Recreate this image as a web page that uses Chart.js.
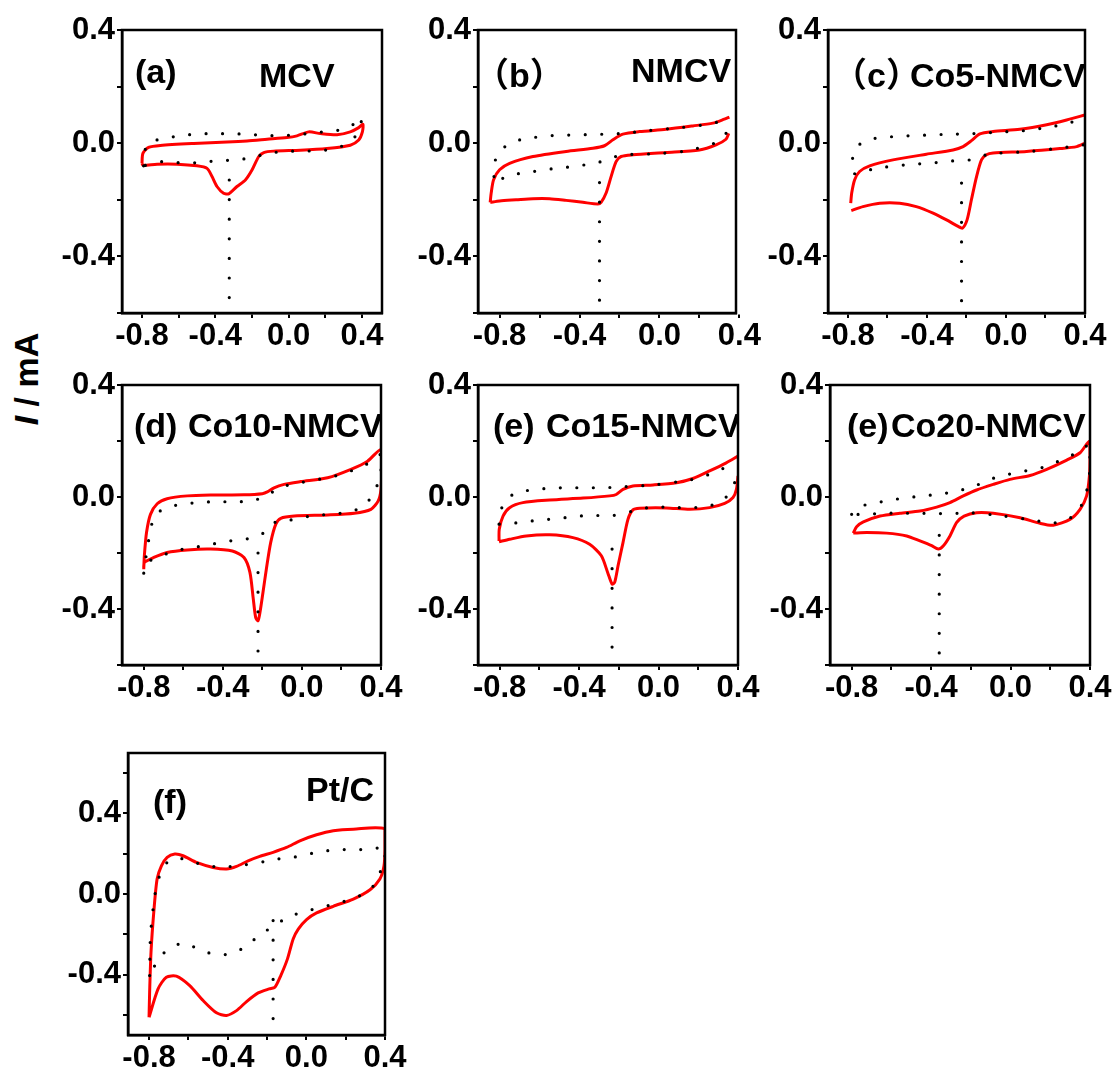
<!DOCTYPE html>
<html>
<head>
<meta charset="utf-8">
<script src="https://cdn.jsdelivr.net/npm/chart.js@4.4.0/dist/chart.umd.min.js"></script>
<style>
  body { margin: 0; background: #fff; }
  #wrap { position: relative; width: 1116px; height: 1072px; overflow: hidden; }
  #wrap canvas { position: absolute; }
  #ylab {
    position: absolute; left: 26px; top: 379px;
    transform: translate(-50%, -50%) rotate(-90deg);
    font: bold 34px "Liberation Sans", Arial, sans-serif;
    white-space: nowrap; color: #000;
  }
</style>
</head>
<body>
<div id="wrap">
  <div id="ylab"><i>I</i> / mA</div>
</div>
<script>
// tick values / labels
var xTicks = [-0.8, -0.6, -0.4, -0.2, 0, 0.2, 0.4];
var xMajor = [-0.8, -0.4, 0, 0.4];
var xMajorLabels = ['-0.8', '-0.4', '0.0', '0.4'];
var yTicks = [-0.6, -0.4, -0.2, 0, 0.2, 0.4];
var yTicksPt = [-0.6, -0.4, -0.2, 0, 0.2, 0.4, 0.6];
var yMajor = [-0.4, 0, 0.4];
var yMajorLabels = ['-0.4', '0.0', '0.4'];

// (a) MCV
var mcvRed = [[-0.8,-0.071],[-0.795,-0.036],[-0.764,-0.015],[-0.7,-0.008],[-0.518,-0.001],[-0.336,0.004],[-0.227,0.008],[-0.118,0.014],[-0.009,0.02],[0.045,0.026],[0.109,0.04],[0.173,0.034],[0.264,0.03],[0.336,0.04],[0.382,0.055],[0.405,0.067],[0.402,0.04],[0.382,0.011],[0.336,-0.007],[0.209,-0.019],[0.064,-0.025],[-0.082,-0.028],[-0.136,-0.033],[-0.164,-0.048],[-0.2,-0.095],[-0.236,-0.13],[-0.282,-0.153],[-0.327,-0.179],[-0.355,-0.177],[-0.391,-0.153],[-0.418,-0.118],[-0.445,-0.089],[-0.5,-0.08],[-0.609,-0.074],[-0.718,-0.074],[-0.795,-0.078],[-0.8,-0.071]];
var mcvDots = [[-0.791,-0.08],[-0.773,-0.004],[-0.691,0.016],[-0.6,0.025],[-0.509,0.032],[-0.409,0.034],[-0.318,0.033],[-0.227,0.032],[-0.136,0.027],[-0.045,0.027],[0.045,0.03],[0.136,0.036],[0.209,0.042],[0.3,0.049],[0.373,0.075],[0.4,0.092],[0.373,0.032],[0.309,-0.005],[0.227,-0.022],[0.145,-0.027],[0.045,-0.028],[-0.045,-0.03],[-0.136,-0.04],[-0.227,-0.054],[-0.318,-0.06],[-0.409,-0.063],[-0.5,-0.069],[-0.6,-0.069],[-0.691,-0.065],[-0.791,-0.08]];
var mcvPeak = [[-0.324,-0.13],[-0.324,-0.553]];

// (b) NMCV
var nmcvRed = [[-0.847,-0.209],[-0.842,-0.176],[-0.83,-0.129],[-0.8,-0.094],[-0.75,-0.071],[-0.633,-0.047],[-0.467,-0.029],[-0.333,-0.018],[-0.275,-0.009],[-0.233,0.012],[-0.183,0.032],[-0.1,0.041],[0.033,0.049],[0.167,0.061],[0.267,0.071],[0.325,0.085],[0.35,0.092],null,[0.347,0.035],[0.333,0.014],[0.283,-0.006],[0.2,-0.024],[0.033,-0.033],[-0.133,-0.041],[-0.192,-0.047],[-0.217,-0.065],[-0.242,-0.118],[-0.267,-0.176],[-0.292,-0.209],[-0.308,-0.215],[-0.383,-0.209],[-0.467,-0.202],[-0.55,-0.196],[-0.633,-0.196],[-0.717,-0.2],[-0.8,-0.204],[-0.847,-0.209]];
var nmcvDots = [[-0.828,-0.118],[-0.817,-0.049],[-0.767,-0.009],[-0.697,0.012],[-0.63,0.02],[-0.558,0.026],[-0.492,0.028],[-0.42,0.029],[-0.337,0.031],[-0.267,0.032],[-0.175,0.035],[-0.05,0.045],[0.117,0.056],[0.283,0.073],[0.355,0.102],null,[0.333,0.035],[0.275,0],[0.117,-0.029],[-0.05,-0.038],[-0.175,-0.041],[-0.25,-0.053],[-0.317,-0.071],[-0.403,-0.079],[-0.483,-0.087],[-0.558,-0.092],[-0.63,-0.1],[-0.708,-0.108],[-0.783,-0.124],[-0.828,-0.118]];
var nmcvPeak = [[-0.3,-0.139],[-0.3,-0.561]];

// (c) Co5-NMCV
var co5Red = [[-0.786,-0.212],[-0.781,-0.176],[-0.766,-0.129],[-0.741,-0.1],[-0.69,-0.08],[-0.572,-0.059],[-0.403,-0.039],[-0.268,-0.024],[-0.217,-0.012],[-0.175,0.009],[-0.132,0.033],[-0.065,0.041],[0.07,0.049],[0.206,0.065],[0.307,0.082],[0.4,0.1],null,[0.4,0],[0.358,-0.012],[0.273,-0.019],[0.104,-0.029],[-0.065,-0.035],[-0.099,-0.041],[-0.124,-0.059],[-0.149,-0.118],[-0.175,-0.2],[-0.197,-0.271],[-0.22,-0.3],[-0.242,-0.294],[-0.301,-0.271],[-0.369,-0.247],[-0.454,-0.224],[-0.538,-0.212],[-0.639,-0.212],[-0.724,-0.224],[-0.783,-0.238]];
var co5Dots = [[-0.766,-0.108],[-0.783,-0.088],[-0.761,-0.018],[-0.702,0.012],[-0.619,0.02],[-0.538,0.025],[-0.462,0.027],[-0.386,0.029],[-0.322,0.031],[-0.259,0.032],[-0.192,0.033],[-0.132,0.035],[-0.048,0.039],[0.087,0.044],[0.239,0.059],[0.324,0.073],[0.391,0.085],null,[0.391,-0.006],[0.332,-0.012],[0.265,-0.018],[0.121,-0.029],[-0.031,-0.035],[-0.099,-0.041],[-0.183,-0.059],[-0.242,-0.061],[-0.31,-0.065],[-0.386,-0.071],[-0.462,-0.074],[-0.563,-0.08],[-0.623,-0.086],[-0.702,-0.096],[-0.766,-0.108]];
var co5Peak = [[-0.225,-0.141],[-0.225,-0.567]];

// (d) Co10-NMCV
var co10Red = [[-0.8,-0.258],[-0.797,-0.21],[-0.786,-0.127],[-0.766,-0.062],[-0.732,-0.024],[-0.682,-0.006],[-0.58,0.004],[-0.462,0.007],[-0.293,0.008],[-0.2,0.012],[-0.175,0.018],[-0.141,0.033],[-0.09,0.045],[-0.006,0.055],[0.13,0.069],[0.248,0.099],[0.332,0.128],[0.4,0.17],[0.403,0.099],[0.4,0.027],[0.386,-0.014],[0.349,-0.044],[0.265,-0.058],[0.13,-0.064],[-0.039,-0.068],[-0.107,-0.076],[-0.132,-0.097],[-0.158,-0.163],[-0.18,-0.258],[-0.197,-0.341],[-0.212,-0.412],[-0.222,-0.442],[-0.234,-0.43],[-0.246,-0.364],[-0.263,-0.269],[-0.293,-0.216],[-0.352,-0.193],[-0.462,-0.186],[-0.58,-0.189],[-0.682,-0.198],[-0.749,-0.216],[-0.797,-0.234],[-0.8,-0.258]];
var co10Dots = [[-0.8,-0.272],[-0.78,-0.174],[-0.746,-0.068],[-0.685,-0.038],[-0.609,-0.026],[-0.53,-0.02],[-0.448,-0.017],[-0.332,-0.017],[-0.256,-0.014],[-0.178,0.004],[-0.116,0.033],[-0.039,0.047],[0.13,0.069],[0.214,0.084],[0.282,0.103],[0.358,0.128],[0.4,0.152],[0.4,0.081],[0.363,0.015],[0.319,-0.028],[0.248,-0.053],[0.18,-0.059],[0.045,-0.068],[-0.056,-0.082],[-0.132,-0.089],[-0.195,-0.129],[-0.268,-0.148],[-0.335,-0.154],[-0.415,-0.163],[-0.496,-0.174],[-0.572,-0.183],[-0.648,-0.193],[-0.715,-0.212],[-0.792,-0.237],[-0.8,-0.272]];
var co10Peak = [[-0.222,-0.2],[-0.222,-0.559]];

// (e) Co15-NMCV
var co15Red = [[-0.803,-0.157],[-0.802,-0.115],[-0.783,-0.068],[-0.75,-0.038],[-0.683,-0.02],[-0.548,-0.011],[-0.38,-0.004],[-0.246,0.004],[-0.213,0.009],[-0.179,0.027],[-0.129,0.039],[-0.028,0.043],[0.09,0.051],[0.173,0.066],[0.257,0.093],[0.341,0.122],[0.4,0.146],null,[0.4,0.075],[0.392,0.027],[0.375,-0.002],[0.333,-0.023],[0.257,-0.038],[0.157,-0.044],[0.039,-0.039],[-0.095,-0.04],[-0.129,-0.046],[-0.154,-0.08],[-0.179,-0.163],[-0.204,-0.246],[-0.221,-0.305],[-0.234,-0.311],[-0.255,-0.272],[-0.288,-0.21],[-0.347,-0.169],[-0.431,-0.145],[-0.548,-0.135],[-0.666,-0.139],[-0.75,-0.151],[-0.803,-0.16]];
var co15Dots = [[-0.803,-0.097],[-0.783,-0.026],[-0.724,0.013],[-0.641,0.025],[-0.552,0.031],[-0.473,0.033],[-0.389,0.033],[-0.313,0.033],[-0.243,0.034],[-0.166,0.037],[-0.028,0.043],[0.157,0.061],[0.232,0.075],[0.299,0.093],[0.363,0.116],null,[0.383,0.051],[0.333,-0.006],[0.257,-0.032],[0.173,-0.038],[0.098,-0.038],[0.022,-0.036],[-0.036,-0.036],[-0.129,-0.05],[-0.179,-0.059],[-0.249,-0.068],[-0.342,-0.065],[-0.431,-0.071],[-0.515,-0.077],[-0.599,-0.083],[-0.683,-0.089],[-0.761,-0.097],[-0.803,-0.097]];
var co15Peak = [[-0.234,-0.186],[-0.234,-0.542]];

// (e) Co20-NMCV
var co20Red = [[-0.792,-0.129],[-0.775,-0.106],[-0.741,-0.089],[-0.657,-0.068],[-0.557,-0.058],[-0.456,-0.05],[-0.372,-0.036],[-0.305,-0.02],[-0.238,0.004],[-0.171,0.025],[-0.087,0.045],[-0.003,0.063],[0.098,0.077],[0.182,0.099],[0.283,0.132],[0.35,0.158],[0.397,0.199],[0.4,0.146],[0.397,0.075],[0.383,0.004],[0.35,-0.044],[0.299,-0.08],[0.215,-0.101],[0.148,-0.094],[0.048,-0.074],[-0.087,-0.058],[-0.171,-0.056],[-0.234,-0.068],[-0.271,-0.091],[-0.305,-0.139],[-0.338,-0.174],[-0.364,-0.186],[-0.397,-0.174],[-0.456,-0.157],[-0.523,-0.139],[-0.624,-0.129],[-0.724,-0.127],[-0.792,-0.129]];
var co20Dots = [[-0.8,-0.062],[-0.738,-0.03],[-0.657,-0.018],[-0.577,-0.008],[-0.489,0],[-0.409,0.006],[-0.33,0.013],[-0.246,0.025],[-0.171,0.042],[-0.095,0.065],[-0.011,0.081],[0.073,0.093],[0.14,0.101],[0.215,0.12],[0.291,0.144],[0.353,0.164],[0.397,0.188],[0.4,0.099],[0.375,-0.002],[0.333,-0.056],[0.283,-0.082],[0.199,-0.094],[0.132,-0.085],[-0.036,-0.068],[-0.204,-0.056],[-0.291,-0.059],[-0.385,-0.059],[-0.464,-0.058],[-0.557,-0.058],[-0.641,-0.058],[-0.728,-0.062],[-0.8,-0.062]];
var co20Peak = [[-0.359,-0.137],[-0.359,-0.562]];

// (f) Pt/C
var ptcRed = [[-0.8,-0.612],[-0.797,-0.488],[-0.79,-0.289],[-0.776,-0.091],[-0.759,0.074],[-0.737,0.14],[-0.708,0.182],[-0.669,0.198],[-0.627,0.19],[-0.559,0.157],[-0.474,0.132],[-0.406,0.124],[-0.355,0.137],[-0.296,0.165],[-0.237,0.187],[-0.169,0.207],[-0.101,0.231],[-0.033,0.264],[0.052,0.294],[0.137,0.314],[0.239,0.322],[0.4,0.322],[0.4,0.223],[0.395,0.14],[0.374,0.074],[0.324,0.021],[0.239,-0.025],[0.137,-0.061],[0.052,-0.094],[0.001,-0.127],[-0.041,-0.174],[-0.067,-0.223],[-0.096,-0.322],[-0.13,-0.405],[-0.16,-0.463],[-0.189,-0.471],[-0.245,-0.491],[-0.304,-0.534],[-0.355,-0.579],[-0.406,-0.603],[-0.457,-0.59],[-0.525,-0.529],[-0.593,-0.455],[-0.661,-0.408],[-0.712,-0.413],[-0.754,-0.471],[-0.8,-0.612]];
var ptcDots = [[-0.797,-0.405],[-0.793,-0.207],[-0.783,-0.107],[-0.771,-0.008],[-0.746,0.091],[-0.695,0.17],[-0.618,0.174],[-0.542,0.149],[-0.466,0.136],[-0.389,0.136],[-0.313,0.145],[-0.22,0.16],[-0.143,0.174],[-0.067,0.182],[0.01,0.198],[0.086,0.212],[0.154,0.22],[0.247,0.22],[0.332,0.223],[0.4,0.231],[0.4,0.174],[0.341,0.041],[0.273,-0.008],[0.205,-0.033],[0.12,-0.055],[0.044,-0.074],[-0.036,-0.094],[-0.114,-0.127],[-0.177,-0.165],[-0.245,-0.21],[-0.313,-0.264],[-0.389,-0.298],[-0.474,-0.298],[-0.551,-0.273],[-0.618,-0.243],[-0.686,-0.264],[-0.746,-0.314],[-0.797,-0.405]];
var ptcPeak = [[-0.169,-0.132],[-0.169,-0.63]];

var FONT = '"Liberation Sans", Arial, "Noto Sans CJK SC", sans-serif';

var panels = [
  { label: '（b）', name: 'NMCV', red: nmcvRed, dots: nmcvDots, peak: nmcvPeak, box: [478.3, 30, 258.4, 283], xr: [-0.908, 0.383], yt: yTicks, yr: [-0.6, 0.4], lab: [-3, 57], nam: [153, 52] },
  { label: '(a)', name: 'MCV', red: mcvRed, dots: mcvDots, peak: mcvPeak, box: [121.7, 30, 260, 283], xr: [-0.909, 0.509], yt: yTicks, yr: [-0.6, 0.4], lab: [13, 53], nam: [137, 57] },
  { label: '（c）', name: 'Co5-NMCV', red: co5Red, dots: co5Dots, peak: co5Peak, box: [828.3, 30, 256.7, 283], xr: [-0.901, 0.4], yt: yTicks, yr: [-0.6, 0.4], lab: [5, 57], nam: [82, 57] },
  { label: '(d)', name: 'Co10-NMCV', red: co10Red, dots: co10Dots, peak: co10Peak, box: [121.7, 385, 259, 280], xr: [-0.91, 0.4], yt: yTicks, yr: [-0.6, 0.4], lab: [12, 52], nam: [66, 52] },
  { label: '(e)', name: 'Co15-NMCV', red: co15Red, dots: co15Dots, peak: co15Peak, box: [478.3, 385, 260, 280], xr: [-0.909, 0.4], yt: yTicks, yr: [-0.6, 0.4], lab: [15, 52], nam: [68, 52] },
  { label: '(e)', name: 'Co20-NMCV', red: co20Red, dots: co20Dots, peak: co20Peak, box: [830, 385, 260, 280], xr: [-0.909, 0.4], yt: yTicks, yr: [-0.6, 0.4], lab: [17, 52], nam: [61, 52] },
  { label: '(f)', name: 'Pt/C', red: ptcRed, dots: ptcDots, peak: ptcPeak, box: [128.3, 753.3, 256.7, 281.7], xr: [-0.907, 0.4], yt: yTicksPt, yr: [-0.7, 0.7], lab: [25, 60], nam: [178, 48] }
];

var PAD_L = 90, PAD_T = 25, PAD_R = 32, PAD_B = 50;

function toXY(arr) {
  return arr.map(function (p) { return p ? { x: p[0], y: p[1] } : { x: null, y: null }; });
}

function labelFor(v, majors, labels) {
  for (var i = 0; i < majors.length; i++) {
    if (Math.abs(v - majors[i]) < 1e-6) return labels[i];
  }
  return '';
}

function makeTextPlugin(p) {
  return {
    id: 'panelText',
    afterDatasetsDraw: function (chart) {
      var a = chart.chartArea, ctx = chart.ctx;
      ctx.save();
      ctx.lineWidth = 2.5;
      ctx.strokeStyle = '#000';
      ctx.strokeRect(a.left, a.top, a.right - a.left, a.bottom - a.top);
      // panel labels stay inside the frame, like the original
      ctx.beginPath();
      ctx.rect(a.left, a.top, a.right - a.left - 1, a.bottom - a.top);
      ctx.clip();
      ctx.fillStyle = '#000';
      ctx.font = 'bold 34px ' + FONT;
      ctx.textBaseline = 'alphabetic';
      ctx.fillText(p.label, a.left + p.lab[0], a.top + p.lab[1]);
      ctx.fillText(p.name, a.left + p.nam[0], a.top + p.nam[1]);
      ctx.restore();
    }
  };
}

var wrap = document.getElementById('wrap');

panels.forEach(function (p) {
  var cv = document.createElement('canvas');
  cv.width = Math.round(p.box[2] + PAD_L + PAD_R);
  cv.height = Math.round(p.box[3] + PAD_T + PAD_B);
  cv.style.left = Math.round(p.box[0] - PAD_L) + 'px';
  cv.style.top = Math.round(p.box[1] - PAD_T) + 'px';
  wrap.appendChild(cv);

  var tickFont = { family: FONT, size: 31, weight: 'bold' };

  new Chart(cv, {
    type: 'scatter',
    data: {
      datasets: [
        { data: toXY(p.peak), showLine: true, borderColor: '#000', borderWidth: 3.2, borderDash: [0, 19.6], borderCapStyle: 'round', pointRadius: 0, tension: 0 },
        { data: toXY(p.dots), showLine: true, borderColor: '#000', borderWidth: 3.2, borderDash: [0, 16.5], borderCapStyle: 'round', pointRadius: 0, tension: 0.25 },
        { data: toXY(p.red), showLine: true, borderColor: '#ff0000', borderWidth: 3, pointRadius: 0, tension: 0.25, borderJoinStyle: 'round' }
      ]
    },
    options: {
      responsive: false,
      animation: false,
      devicePixelRatio: 1,
      layout: { padding: { left: 0, top: PAD_T, right: PAD_R, bottom: 0 } },
      plugins: { legend: { display: false }, tooltip: { enabled: false } },
      scales: {
        x: {
          type: 'linear', min: p.xr[0], max: p.xr[1],
          afterBuildTicks: function (s) { s.ticks = xTicks.map(function (v) { return { value: v }; }); },
          afterFit: function (s) { s.height = PAD_B; },
          ticks: { autoSkip: false, maxRotation: 0, padding: 0, color: '#000', font: tickFont,
            callback: function (v) { return labelFor(v, xMajor, xMajorLabels); } },
          grid: { drawOnChartArea: false, tickLength: 5, lineWidth: 2, color: '#000' },
          border: { display: true, color: '#000', width: 2.5 }
        },
        y: {
          type: 'linear', min: p.yr[0], max: p.yr[1],
          afterBuildTicks: function (s) { s.ticks = p.yt.map(function (v) { return { value: v }; }); },
          afterFit: function (s) { s.width = PAD_L; },
          ticks: { autoSkip: false, padding: 2, color: '#000', font: tickFont,
            callback: function (v) { return labelFor(v, yMajor, yMajorLabels); } },
          grid: { drawOnChartArea: false, tickLength: 5, lineWidth: 2, color: '#000' },
          border: { display: true, color: '#000', width: 2.5 }
        }
      }
    },
    plugins: [makeTextPlugin(p)]
  });
});
</script>
</body>
</html>
